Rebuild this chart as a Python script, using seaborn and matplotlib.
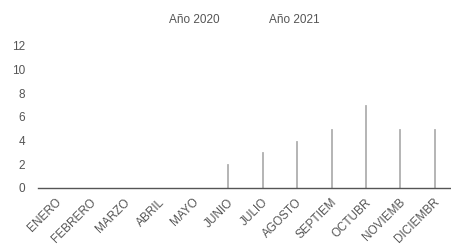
import pandas as pd
import matplotlib
matplotlib.use("Agg")
import matplotlib.pyplot as plt
import seaborn as sns

# Data
meses = ["ENERO", "FEBRERO", "MARZO", "ABRIL", "MAYO", "JUNIO",
         "JULIO", "AGOSTO", "SEPTIEM", "OCTUBR", "NOVIEMB", "DICIEMBR"]
anio_2020 = [0, 0, 0, 0, 0, 0, 0, 0, 0, 0, 0, 0]
anio_2021 = [0, 0, 0, 0, 0, 2, 3, 4, 5, 7, 5, 5]
series = ["Año 2020", "Año 2021"]
yticks = [0, 2, 4, 6, 8, 10, 12]

data = pd.DataFrame({
    "mes": meses * 2,
    "valor": anio_2020 + anio_2021,
    "serie": [series[0]] * len(meses) + [series[1]] * len(meses),
})

sns.set_style("white")
plt.rcParams["font.family"] = ["Liberation Sans", "DejaVu Sans"]

fig = plt.figure(figsize=(4.51, 2.45), dpi=100)
ax = fig.add_axes([0.084, 0.233, 0.916, 0.58])

sns.barplot(data=data, x="mes", y="valor", hue="serie", order=meses,
            palette=["#d8d8d8", "#b0b0b0"], width=0.06, ax=ax,
            edgecolor="#b0b0b0", linewidth=0.6, legend=False)

ax.set_ylim(0, 12)
ax.set_xlim(-0.5, 11.5)
ax.set_yticks(yticks)
ax.set_xlabel("")
ax.set_ylabel("")
for s in ["top", "right", "left"]:
    ax.spines[s].set_visible(False)
ax.spines["bottom"].set_color("#555555")
ax.spines["bottom"].set_linewidth(1)
ax.tick_params(axis="both", length=0, labelsize=8.5, colors="#555555")
ax.tick_params(axis="x", pad=6)
ax.tick_params(axis="y", pad=9)
plt.setp(ax.get_xticklabels(), rotation=45, ha="right", rotation_mode="anchor")

# legend keys are invisible in the reference, only the labels show
handles = [plt.Rectangle((0, 0), 1, 1, color="none") for _ in series]
ax.legend(handles, series, loc="center", bbox_to_anchor=(0.485, 1.18), ncol=2,
          frameon=False, fontsize=8.5, handlelength=0.2, columnspacing=3.2,
          labelcolor="#555555")

fig.savefig("out.png", dpi=100)
